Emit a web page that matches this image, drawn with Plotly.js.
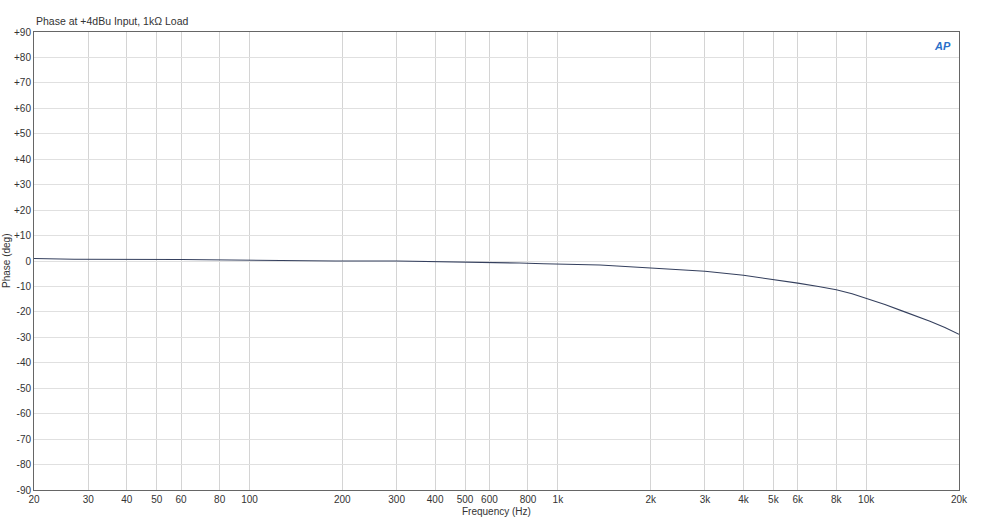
<!DOCTYPE html>
<html><head><meta charset="utf-8">
<script src="https://cdn.plot.ly/plotly-3.0.1.min.js"></script>
<style>html,body{margin:0;padding:0;background:#fff}#chart{width:993px;height:532px}</style>
</head><body><div id="chart"></div>
<script>
const freqHz = [20, 27, 60, 90, 150, 190, 300, 480, 600, 750, 900, 1000, 1370, 2000, 3000, 4000, 5000, 6000, 7000, 8000, 9000, 10000, 11500, 13200, 14500, 16100, 18000, 20000];
const phaseDeg = [1.0, 0.7, 0.6, 0.3, 0.2, 0.0, 0.0, -0.3, -0.5, -0.8, -1.1, -1.2, -1.6, -2.75, -4.0, -5.6, -7.2, -8.7, -10.0, -11.3, -12.9, -14.6, -17.1, -19.8, -21.6, -23.7, -26.1, -28.8];

const xTickVals = [20,30,40,50,60,80,100,200,300,400,500,600,800,1000,2000,3000,4000,5000,6000,8000,10000,20000];
const xTickText = ['20','30','40','50','60','80','100','200','300','400','500','600','800','1k','2k','3k','4k','5k','6k','8k','10k','20k'];
const xMinorVals = [70,90,700,900,7000,9000];
const yTickVals = [90,80,70,60,50,40,30,20,10,0,-10,-20,-30,-40,-50,-60,-70,-80,-90];
const yTickText = ['+90','+80','+70','+60','+50','+40','+30','+20','+10','0','-10','-20','-30','-40','-50','-60','-70','-80','-90'];

const L = Math.log10;
const shapes = xMinorVals.map(v => ({type:'line', xref:'x', yref:'paper', x0:L(v), x1:L(v), y0:0, y1:1, line:{color:'#ececec', width:1}, layer:'below'}));

const trace = {x: freqHz, y: phaseDeg, type:'scatter', mode:'lines', line:{color:'#35405e', width:1.1}, hoverinfo:'skip'};

const FONT = '"Liberation Sans", Arial, sans-serif';
const layout = {
  width: 993, height: 532,
  margin: {l:34, r:34, t:32, b:42},
  paper_bgcolor:'#fff', plot_bgcolor:'#fff',
  font: {family:FONT, size:10, color:'#333'},
  showlegend:false,
  xaxis: {type:'log', range:[L(20), L(20000)], tickvals:xTickVals, ticktext:xTickText,
    showgrid:true, gridcolor:'#d4d4d4', gridwidth:1, zeroline:false,
    showline:true, linecolor:'#666', linewidth:1, mirror:true, ticks:'', ticklen:0,
    tickfont:{family:FONT, size:10, color:'#333'}},
  yaxis: {range:[-90,90], tickvals:yTickVals, ticktext:yTickText,
    showgrid:true, gridcolor:'#e0e0e0', gridwidth:1, zeroline:false,
    showline:true, linecolor:'#666', linewidth:1, mirror:true, ticks:'', ticklen:0,
    tickfont:{family:FONT, size:10, color:'#333'}},
  shapes: shapes,
  annotations: [
    {text:'Phase at +4dBu Input, 1kΩ Load', xref:'paper', yref:'paper', x:0, y:1, xanchor:'left', yanchor:'bottom', yshift:3, showarrow:false, font:{family:FONT, size:10.5, color:'#333'}},
    {text:'Frequency (Hz)', xref:'paper', yref:'paper', x:0.500, y:0, xanchor:'center', yanchor:'top', yshift:-14, showarrow:false, font:{family:FONT, size:10, color:'#333'}},
    {text:'Phase (deg)', xref:'paper', yref:'paper', x:0, y:0.5, xanchor:'center', yanchor:'middle', xshift:-28, textangle:-90, showarrow:false, font:{family:FONT, size:10, color:'#333'}},
    {text:'<i><b>AP</b></i>', xref:'paper', yref:'paper', x:0.993, y:0.969, xanchor:'right', yanchor:'middle', showarrow:false, font:{family:FONT, size:11, color:'#2a6fc9'}}
  ]
};
Plotly.newPlot('chart', [trace], layout, {staticPlot:true, displayModeBar:false});
</script></body></html>
